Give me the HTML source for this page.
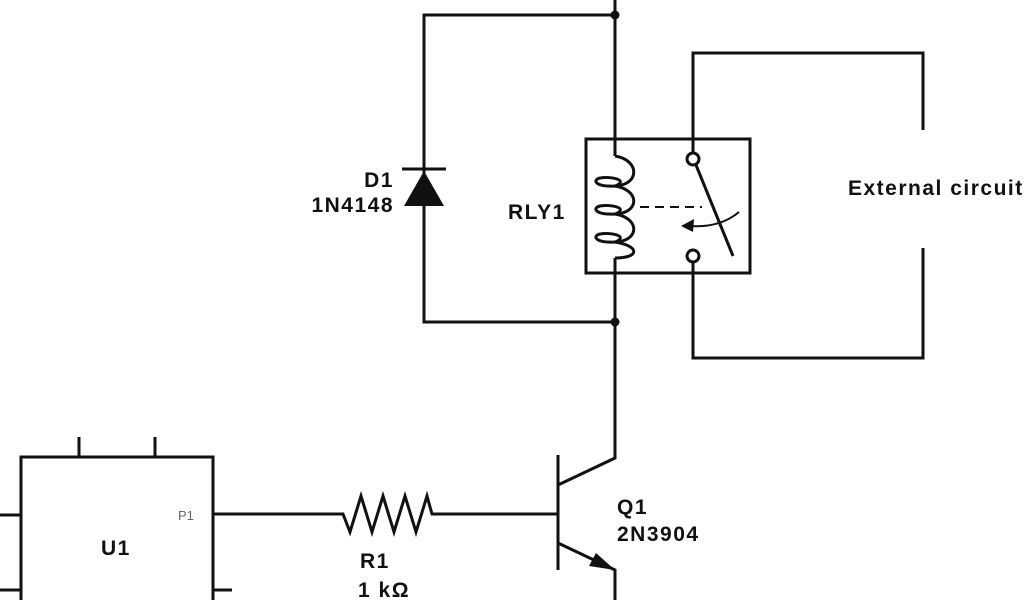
<!DOCTYPE html>
<html><head><meta charset="utf-8"><style>
html,body{margin:0;padding:0;background:#fff;}
svg{display:block}
text{font-family:"Liberation Sans",sans-serif;font-weight:bold;fill:#111;letter-spacing:1.5px;}
</style></head><body>
<svg width="1024" height="600" viewBox="0 0 1024 600" xmlns="http://www.w3.org/2000/svg">
<g stroke="#111" stroke-width="3" fill="none">
<polyline points="615,0 615,156"/>
<polyline points="615,15 424,15 424,322 615,322"/>
<polyline points="615,258 615,458 558,485"/>
<rect x="586" y="139" width="164" height="134"/>
<path d="M615,156 C640,160 640,185 615,186 C595,187 592,180 600,178 C610,176 630,180 615,186 C640,190 640,213 615,214 C595,215 592,208 600,206 C610,204 630,208 615,214 C640,218 640,241 615,242 C595,243 592,236 600,234 C610,232 630,236 615,242 C640,246 640,258 615,258"/>
<line x1="640" y1="207" x2="702" y2="207" stroke-width="2" stroke-dasharray="9,6"/>
<circle cx="693" cy="159" r="6" fill="#fff"/>
<circle cx="693" cy="256" r="6" fill="#fff"/>
<line x1="696" y1="165" x2="733" y2="256"/>
<polyline points="693,153 693,53 923,53 923,130"/>
<polyline points="693,262 693,358 923,358 923,248"/>
<path d="M739,212 Q720,228 690,226" stroke-width="2"/>
<line x1="558" y1="455" x2="558" y2="570"/>
<polyline points="558,543 615,570 615,600"/>
<polyline points="213,514 343,514 350,532 361,496 372,532 383,496 394,532 405,496 416,532 427,496 432,514 558,514"/>
<polyline points="21,600 21,457 213,457 213,600"/>
<line x1="79" y1="437" x2="79" y2="457"/>
<line x1="155" y1="437" x2="155" y2="457"/>
<line x1="0" y1="515" x2="21" y2="515"/>
<line x1="0" y1="590" x2="21" y2="590"/>
<line x1="213" y1="590" x2="232" y2="590"/>
</g>
<circle cx="615" cy="15" r="4.5" fill="#111"/>
<circle cx="615" cy="322" r="4.5" fill="#111"/>
<line x1="402" y1="169" x2="446" y2="169" stroke="#111" stroke-width="3"/>
<polygon points="424,171 404,206 444,206" fill="#111"/>
<polygon points="681,226 694,219 693,232" fill="#111"/>
<polygon points="615,570 596,553 589,566" fill="#111"/>
<text x="394" y="187" font-size="21" text-anchor="end">D1</text>
<text x="394" y="212" font-size="21" text-anchor="end">1N4148</text>
<text x="508" y="219" font-size="21">RLY1</text>
<text x="848" y="195" font-size="21">External circuit</text>
<text x="617" y="514" font-size="21">Q1</text>
<text x="617" y="541" font-size="21">2N3904</text>
<text x="360" y="568" font-size="21">R1</text>
<text x="358" y="597" font-size="21">1 kΩ</text>
<text x="101" y="555" font-size="21">U1</text>
<text x="178" y="520" font-size="13" style="font-weight:normal;fill:#666;letter-spacing:0">P1</text>
</svg>
</body></html>
